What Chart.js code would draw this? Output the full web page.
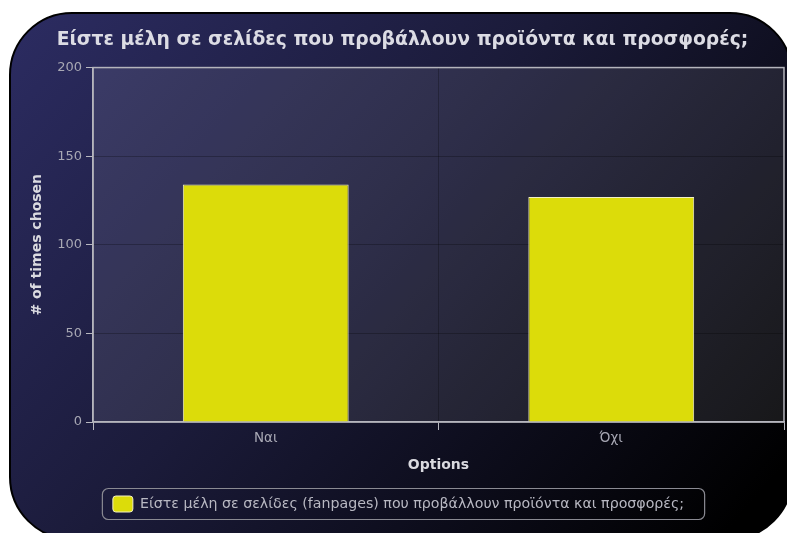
<!DOCTYPE html>
<html>
<head>
<meta charset="utf-8">
<script src="https://cdn.jsdelivr.net/npm/chart.js@4.4.1/dist/chart.umd.min.js"></script>
<style>
  html, body { margin: 0; padding: 0; background: #ffffff; }
  #wrap { width: 787px; height: 533px; position: relative; }
</style>
</head>
<body>
<div id="wrap"><canvas id="chart" width="787" height="533"></canvas></div>
<script>
// Survey answers and counts
const categories = ['Ναι', 'Όχι'];
const counts = [134, 127];
const seriesLabel = 'Είστε μέλη σε σελίδες (fanpages) που προβάλλουν προϊόντα και προσφορές;';
const chartTitle = 'Είστε μέλη σε σελίδες που προβάλλουν προϊόντα και προσφορές;';
const yAxisTitle = '# of times chosen';
const xAxisTitle = 'Options';
const yTicks = [0, 50, 100, 150, 200];

const FONT = "'DejaVu Sans', sans-serif";

function roundRectPath(ctx, x, y, w, h, r) {
  ctx.beginPath();
  ctx.moveTo(x + r, y);
  ctx.lineTo(x + w - r, y);
  ctx.arcTo(x + w, y, x + w, y + r, r);
  ctx.lineTo(x + w, y + h - r);
  ctx.arcTo(x + w, y + h, x + w - r, y + h, r);
  ctx.lineTo(x + r, y + h);
  ctx.arcTo(x, y + h, x, y + h - r, r);
  ctx.lineTo(x, y + r);
  ctx.arcTo(x, y, x + r, y, r);
  ctx.closePath();
}

// Dark rounded card behind everything, plus a lighter plot panel
const backdrop = {
  id: 'backdrop',
  afterLayout(chart) {
    // nudge the legend slightly left of centre (hit boxes are rebuilt afterwards)
    const lg = chart.legend;
    if (lg) {
      lg.left -= 4;
      lg.right -= 4;
    }
  },
  beforeDraw(chart) {
    const ctx = chart.ctx;
    const ca = chart.chartArea;
    ctx.save();
    const cx = 10, cy = 13, cw = 782, ch = 526;
    const g = ctx.createLinearGradient(cx, cy, cx + cw * 0.85, cy + ch * 1.1);
    g.addColorStop(0, '#2c2c62');
    g.addColorStop(0.45, '#1b1b3a');
    g.addColorStop(1, '#000000');
    roundRectPath(ctx, cx, cy, cw, ch, 62);
    ctx.fillStyle = g;
    ctx.fill();
    ctx.lineWidth = 2;
    ctx.strokeStyle = '#000000';
    ctx.stroke();
    ctx.fillStyle = 'rgba(255,255,255,0.09)';
    ctx.fillRect(ca.left, ca.top, ca.right - ca.left, ca.bottom - ca.top);
    ctx.restore();
  },
  beforeDatasetsDraw(chart) {
    const ctx = chart.ctx;
    const ca = chart.chartArea;
    ctx.save();
    ctx.strokeStyle = '#b4b4bc';
    ctx.lineWidth = 1.5;
    ctx.strokeRect(ca.left, ca.top, ca.right - ca.left, ca.bottom - ca.top);
    ctx.restore();
  },
  afterDraw(chart) {
    // frame around the legend entry
    const lg = chart.legend;
    if (!lg || !lg.legendHitBoxes || !lg.legendHitBoxes.length) return;
    const hb = lg.legendHitBoxes[0];
    const ctx = chart.ctx;
    ctx.save();
    roundRectPath(ctx, hb.left - 10.5, hb.top - 7.5, hb.width + 31, hb.height + 15, 6);
    ctx.strokeStyle = '#8a8a92';
    ctx.lineWidth = 1.2;
    ctx.stroke();
    ctx.restore();
  }
};

new Chart(document.getElementById('chart'), {
  type: 'bar',
  data: {
    labels: categories,
    datasets: [{
      label: seriesLabel,
      data: counts,
      backgroundColor: '#dcdc0a',
      borderColor: '#f2f0c4',
      borderWidth: 1,
      barPercentage: 0.48,
      categoryPercentage: 1.0
    }]
  },
  options: {
    responsive: false,
    animation: false,
    devicePixelRatio: 1,
    layout: { padding: { left: 21, right: 3, top: 0, bottom: 11 } },
    plugins: {
      title: {
        display: true,
        text: chartTitle,
        color: '#dcdce4',
        font: { family: FONT, size: 18.8, weight: 'bold' },
        padding: { top: 29, bottom: 16 }
      },
      legend: {
        display: true,
        position: 'bottom',
        labels: {
          color: '#b8b8c2',
          font: { family: FONT, size: 14.2 },
          boxWidth: 20,
          boxHeight: 16,
          useBorderRadius: true,
          borderRadius: 3,
          padding: 10
        }
      },
      tooltip: { enabled: false }
    },
    scales: {
      x: {
        offset: true,
        grid: {
          offset: true,
          color: 'rgba(0,0,0,0.25)',
          tickColor: '#b8b8c0',
          tickLength: 8,
          lineWidth: 1
        },
        border: { display: true, color: '#b8b8c0', width: 1.5 },
        ticks: {
          color: '#a8a8b4',
          font: { family: FONT, size: 13.5 },
          padding: 0
        },
        title: {
          display: true,
          text: xAxisTitle,
          color: '#dadae0',
          font: { family: FONT, size: 14, weight: 'bold' },
          padding: { top: 0, bottom: 12 }
        },
        afterFit(scale) { scale.height = 64; }
      },
      y: {
        min: 0,
        max: 200,
        afterBuildTicks(scale) { scale.ticks = yTicks.map(v => ({ value: v })); },
        grid: {
          color: 'rgba(0,0,0,0.25)',
          tickColor: '#b8b8c0',
          tickLength: 7,
          lineWidth: 1
        },
        border: { display: true, color: '#b8b8c0', width: 1.5 },
        ticks: {
          color: '#a8a8b4',
          font: { family: FONT, size: 13 },
          padding: 4
        },
        title: {
          display: true,
          text: yAxisTitle,
          color: '#dadae0',
          font: { family: FONT, size: 14, weight: 'bold' },
          padding: { top: 8, bottom: 0 }
        },
        afterFit(scale) { scale.width = 72; }
      }
    }
  },
  plugins: [backdrop]
});
</script>
</body>
</html>
